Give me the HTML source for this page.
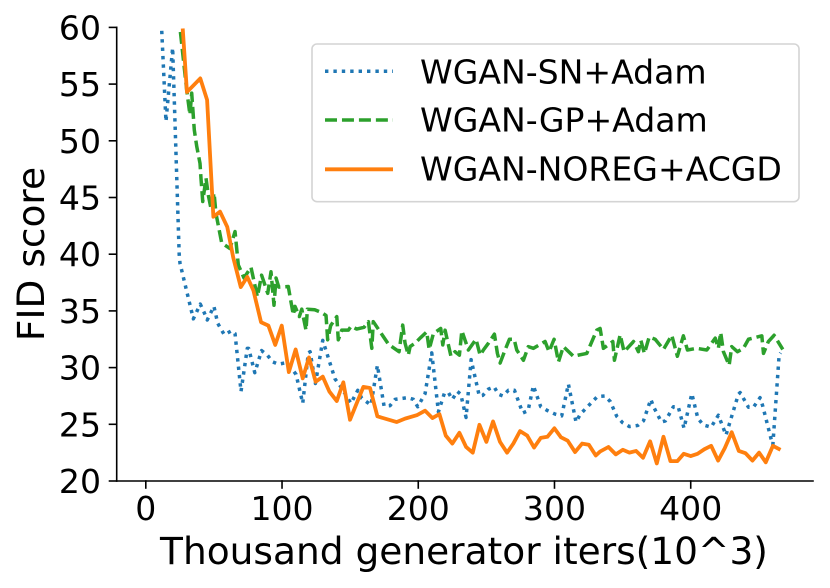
<!DOCTYPE html>
<html>
<head>
<meta charset="utf-8">
<title>FID score chart</title>
<style>
html,body{margin:0;padding:0;background:#fff;}
svg{display:block;}
text{font-family:"DejaVu Sans",sans-serif;fill:#000;}
</style>
</head>
<body>
<svg id="chart" xmlns="http://www.w3.org/2000/svg" width="830" height="588" viewBox="0 0 830 588">
  <defs><clipPath id="plot-clip"><rect x="116.7" y="27.4" width="697" height="453.6"></rect></clipPath></defs>
  <g id="series" clip-path="url(#plot-clip)"></g>
  <g id="axes"></g>
  <text x="464" y="564" font-size="37.5" text-anchor="middle">Thousand generator iters(10^3)</text>
  <text transform="translate(44,254) rotate(-90)" font-size="37.5" text-anchor="middle">FID score</text>
  <g>
    <rect x="312" y="44" width="487" height="157.7" rx="5" ry="5" fill="#fff" stroke="#d4d4d4" stroke-width="1.6"></rect>
    <line x1="325" y1="71.3" x2="393" y2="71.3" stroke="#1f77b4" stroke-width="3.5" stroke-dasharray="3.4 5"></line>
    <text x="420" y="83.3" font-size="33.1">WGAN-SN+Adam</text>
    <line x1="325" y1="120" x2="393" y2="120" stroke="#2ca02c" stroke-width="3.5" stroke-dasharray="12 4.96"></line>
    <text x="420" y="131.7" font-size="33.1">WGAN-GP+Adam</text>
    <line x1="325" y1="169.3" x2="393" y2="169.3" stroke="#ff7f0e" stroke-width="3.8"></line>
    <text x="420" y="180.7" font-size="33.1">WGAN-NOREG+ACGD</text>
  </g>
</svg>
<script>
const xTicks = [0, 100, 200, 300, 400];
const yTicks = [20, 25, 30, 35, 40, 45, 50, 55, 60];

const snX = [11.7,14.8,19.7,24.5,25.1,34.9,40,42.7,45.1,50,52.8,57.6,63,65.5,69.9,74.5,75.5,80,85,89.2,93.2,97.3,101.7,105.9,110.3,115.2,119.3,120.6,124.5,129.9,138.9,142.6,150.6,155.6,158.5,165.3,170,174.9,179.3,183,192.3,196.4,199.6,205,209.9,214.8,219.2,222.1,225,228.7,231.2,235.1,238.8,244.8,247.4,251.5,255.7,258.8,262,266.2,270.6,276.7,280.6,284.5,289.9,295,300.4,305.3,310.2,315.8,319,331.5,337.1,341,345.7,349.9,355,361.2,365.3,370.7,372.9,378.5,381.4,387.3,390.8,395.1,400.8,405.2,409.1,415,420.3,425.9,435,436.3,442.4,446,450.9,452.9,459,460.3,464.9,466];
const snY = [59.7,51.7,58.2,40,39.2,34.3,35.6,34.9,34.2,35.4,33.9,32.9,33.25,33,27.9,31.7,31.7,29.55,31.5,31.1,30.5,30.3,30.4,30.1,29.4,26.85,31.3,31.4,28.6,32.4,29,28.4,26.85,28,27.3,26.7,30.2,26.6,26.65,27.2,27.35,27.2,26.55,27.7,31.3,26.1,27.75,27.8,27.2,27.9,27.65,25.6,30.7,27.5,27.55,28.1,28.3,27.65,27.5,28,28,26,26.2,28.4,26.55,26.2,25.9,25.75,28.55,25.2,25.9,27.45,27.5,27,25.7,25.15,24.8,24.9,25.3,27.2,26.5,25.2,25.3,26.55,26.55,24.65,27.7,25.55,24.95,24.75,25.8,24.05,27.65,27.8,26.5,26.5,27.35,26.6,23.7,23.2,31.1,31.3];

const gpX = [25.4,30,32.4,33.7,35.6,37.4,39.8,40.5,41.8,44.2,45.9,47.9,50.1,51.5,55.7,61.8,65.5,67.9,72.1,77.2,81.9,85,89.5,91.9,94.1,95.6,97.6,104.6,105.9,108.3,109.5,112.7,114.5,117.6,118.6,124,129.1,132.3,133.5,135.7,140.2,141.3,143.8,148.7,150.7,154.8,160.2,163.4,165.9,167,174,178.2,185.9,188.6,190.3,192.7,194,197.6,201.8,206.2,208,211.1,216.5,218,219.7,224,227,230.2,232,236.8,242.4,245.4,247.8,251.5,255.9,258.1,260.1,263.7,266.9,270.4,272.3,277.2,280.8,284.5,293.1,296,299.7,302.9,306.5,313.9,317.5,323.7,331,333.5,335.9,342.8,344,348.2,351.1,358,361.6,363.4,366,369.5,373.9,380,386.1,390.2,394.6,397.6,404.4,411.8,418,420.3,422,424,428.2,430.1,434.3,438.7,442.4,452.2,453.4,457,461.2,467.6];
const gpY = [59.6,54.5,52.3,54.2,50.95,49.5,48,46.7,44.65,46.7,45.2,44,45.4,43.6,41,40.5,42,39.05,37.9,38.85,36.25,38.15,36.55,38.45,35.5,37.9,37.1,37.15,36.25,34.65,35.4,34.5,35.15,33.3,35.15,35.1,34.85,34.6,32.45,33.7,34.5,32.45,33.3,33.3,33.65,33.4,33.55,34.05,31.7,34.05,32.8,32.05,31.4,33.75,32.15,31.1,31.85,32.15,32.65,33.15,31.6,33,33.45,32,33.3,31,31.4,31.1,33.25,31.55,32.5,31.1,31.55,32.15,32.95,31.25,30.4,31.55,32.5,32.5,31.55,30.65,31.85,31.7,32.3,31.4,32.5,30.5,31.85,31,31.1,31.25,33.3,33.45,31.7,32.3,30.65,32.9,31.4,32.3,31.4,32.4,31.25,32.7,32.5,31.6,32.85,31,32.8,31.55,31.7,31.55,32.6,31.7,33.1,31.4,30.2,31.85,31.4,31.7,32.5,32.8,31.25,32.3,32.85,31.6];

const acgdX = [27.1,30.2,40,45,49.6,54.5,59.8,64.2,69.7,74.5,79,84.6,90,95,99.8,105,110,115.2,119.8,124.7,129.9,134.7,140.2,145,149.9,154.8,159.7,164.6,170,184.2,190.3,198.9,205,210.4,215.5,220.2,225,230.2,235.1,240,244.9,250,254.9,260,265.2,269.8,274.7,280,285,289.9,294.8,299.9,304.8,309.7,315.1,320.3,325.2,330.3,333.5,339.6,345,350.1,355,359.9,365,370.2,375.1,380,385.1,390.2,394.9,400,405,410,415,420.1,425,430.1,435.3,440.2,445.3,450.2,455.1,460.3,465.9];
const acgdY = [59.9,54.3,55.5,53.6,43.3,43.75,42.4,39.7,37.1,38,36.8,34,33.7,32,33.7,29.6,31.6,29.05,30.9,28.75,29.2,27.9,27.05,28.7,25.4,26.85,28.3,28.2,25.7,25.2,25.5,25.8,26.2,25.55,25.9,24,23.3,24.25,23,22.5,24.95,23.45,25.25,23.45,22.5,23.3,24.4,24,22.95,23.8,23.9,24.65,23.85,23.55,22.55,23.3,23.2,22.25,22.6,23,22.35,22.75,22.5,22.65,22.05,23.5,21.55,23.9,21.75,21.75,22.4,22.2,22.4,22.8,23.1,21.8,22.9,24.3,22.65,22.45,21.8,22.5,21.65,23.1,22.75];

const NS = 'http://www.w3.org/2000/svg';
function xScale(v) { return 145.8 + 1.3623 * v; }
function yScale(v) { return 481 - 11.34 * (v - 20); }

const seriesGroup = document.getElementById('series');
const axesGroup = document.getElementById('axes');

function drawSeries(xs, ys, color, width, dash, name) {
  const p = document.createElementNS(NS, 'polyline');
  
  
  p.setAttribute('points', xs.map(function (x, i) { return xScale(x).toFixed(2) + ',' + yScale(ys[i]).toFixed(2); }).join(' '));
  p.setAttribute('fill', 'none');
  p.setAttribute('stroke', color);
  p.setAttribute('stroke-width', width);
  p.setAttribute('stroke-linejoin', 'round');
  if (dash) p.setAttribute('stroke-dasharray', dash);
  seriesGroup.appendChild(p);
}
drawSeries(snX, snY, '#1f77b4', 3.5, '3.4 5', 'series-wgan-sn-adam');
drawSeries(gpX, gpY, '#2ca02c', 3.5, '12 4.96', 'series-wgan-gp-adam');
drawSeries(acgdX, acgdY, '#ff7f0e', 3.8, null, 'series-wgan-noreg-acgd');

function axisLine(x1, y1, x2, y2, name) {
  const l = document.createElementNS(NS, 'line');
  
  
  l.setAttribute('x1', x1);
  l.setAttribute('y1', y1);
  l.setAttribute('x2', x2);
  l.setAttribute('y2', y2);
  l.setAttribute('stroke', '#000');
  l.setAttribute('stroke-width', 1.6);
  l.setAttribute('stroke-linecap', 'square');
  axesGroup.appendChild(l);
}
axisLine(116.7, 27.4, 116.7, 481, 'y-axis-spine');
axisLine(116.7, 481, 813, 481, 'x-axis-spine');

xTicks.forEach(function (v) {
  axisLine(xScale(v), 481, xScale(v), 488, 'x-tick');
  const t = document.createElementNS(NS, 'text');
  
  
  t.setAttribute('x', xScale(v));
  t.setAttribute('y', 520);
  t.setAttribute('font-size', 33.1);
  t.setAttribute('text-anchor', 'middle');
  t.textContent = v;
  axesGroup.appendChild(t);
});
yTicks.forEach(function (v) {
  axisLine(109.5, yScale(v), 116.7, yScale(v), 'y-tick');
  const t = document.createElementNS(NS, 'text');
  
  
  t.setAttribute('x', 101);
  t.setAttribute('y', yScale(v) + 12);
  t.setAttribute('font-size', 33.1);
  t.setAttribute('text-anchor', 'end');
  t.textContent = v;
  axesGroup.appendChild(t);
});
</script>
</body>
</html>
